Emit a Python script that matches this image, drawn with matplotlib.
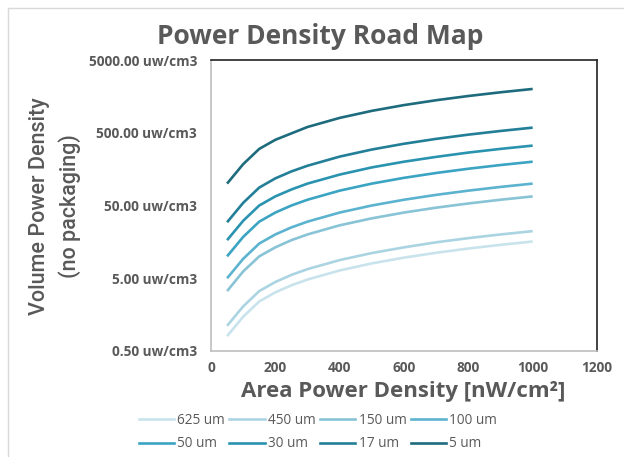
import matplotlib
matplotlib.use("Agg")
import matplotlib.pyplot as plt
from matplotlib.ticker import FixedLocator, NullLocator
from matplotlib.lines import Line2D

# ---- data ----
area_density = [50, 100, 150, 200, 250, 300, 400, 500, 600, 700, 800, 900, 1000]
series_names = ["625 um", "450 um", "150 um", "100 um", "50 um", "30 um", "17 um", "5 um"]
s625 = [0.8, 1.48, 2.4, 3.2, 4.0, 4.8, 6.4, 8.0, 9.6, 11.2, 12.8, 14.4, 16.0]
s450 = [1.11, 2.05, 3.33, 4.44, 5.56, 6.67, 8.89, 11.1, 13.3, 15.6, 17.8, 20.0, 22.2]
s150 = [3.33, 6.2, 10.0, 13.3, 16.7, 20.0, 26.7, 33.3, 40.0, 46.7, 53.3, 60.0, 66.7]
s100 = [5, 9.25, 15, 20, 25, 30, 40, 50, 60, 70, 80, 90, 100]
s50 = [10, 18.5, 30, 40, 50, 60, 80, 100, 120, 140, 160, 180, 200]
s30 = [16.7, 30.8, 50, 66.7, 83, 100, 133, 167, 200, 233, 267, 300, 333]
s17 = [29.4, 54.4, 88.2, 118, 147, 176, 235, 294, 353, 412, 471, 529, 588]
s5 = [100, 185, 300, 400, 490, 600, 800, 1000, 1200, 1400, 1600, 1800, 2000]
series_values = [s625, s450, s150, s100, s50, s30, s17, s5]
y_ticks = [0.5, 5, 50, 500, 5000]
y_tick_labels = ["0.50 uw/cm3", "5.00 uw/cm3", "50.00 uw/cm3", "500.00 uw/cm3", "5000.00 uw/cm3"]
x_ticks = [0, 200, 400, 600, 800, 1000, 1200]

colors = ["#c9e3ec", "#abd4e2", "#88c3d6", "#5cb3cf", "#3ba4c3", "#2a93b0", "#237f97", "#1e6b7e"]
grey = "#595959"

fig = plt.figure(figsize=(6.24, 4.57), dpi=100)
ax = fig.add_axes([211/624, 1-351/457, (597-211)/624, (351-60)/457])

for name, vals, c in zip(series_names, series_values, colors):
    ax.plot(area_density, vals, color=c, lw=1.9, solid_joinstyle="round",
            solid_capstyle="butt", label=name)

ax.set_yscale("log")
ax.set_ylim(0.5, 5000)
ax.set_xlim(0, 1200)
ax.yaxis.set_major_locator(FixedLocator(y_ticks))
ax.yaxis.set_minor_locator(NullLocator())
ax.set_yticklabels(y_tick_labels)
ax.set_xticks(x_ticks)
ax.tick_params(axis="y", length=0, pad=10, colors=grey)
ax.tick_params(axis="x", length=0, pad=7, colors=grey)
for lab in ax.get_xticklabels() + ax.get_yticklabels():
    lab.set_fontfamily("Open Sans")
    lab.set_fontweight("bold")
    lab.set_fontsize(9.8)
    lab.set_color(grey)

ax.spines["left"].set_color("#bfbfbf")
ax.spines["bottom"].set_color("#bfbfbf")
ax.spines["top"].set_color("#222222")
ax.spines["right"].set_color("#222222")
for sp in ax.spines.values():
    sp.set_linewidth(1.2)

fig.text(320/624, 1-36/457, "Power Density Road Map", ha="center", va="center",
         fontsize=19, fontweight="bold", color=grey, family="Open Sans")
fig.text(403/624, 1-392/457, "Area Power Density [nW/cm²]", ha="center", va="center",
         fontsize=16, fontweight="bold", color=grey, family="Open Sans")
fig.text(40/624, 1-206/457, "Volume Power Density", rotation=90, ha="center", va="center",
         fontsize=15.5, fontweight="medium", color=grey, family=["Roboto", "DejaVu Sans"])
fig.text(70/624, 1-206/457, "(no packaging)", rotation=90, ha="center", va="center",
         fontsize=15.5, fontweight="medium", color=grey, family=["Roboto", "DejaVu Sans"])

# legend (row-wise order: reorder for matplotlib's column-major fill)
order = [0, 4, 1, 5, 2, 6, 3, 7]
handles = [Line2D([0], [0], color=colors[i], lw=1.9) for i in order]
labels = [series_names[i] for i in order]
leg = fig.legend(handles, labels, loc="center", bbox_to_anchor=(318/624, 1-432/457),
                 ncol=4, frameon=False, prop={"family": "Open Sans", "size": 9.8},
                 handlelength=2.6, handletextpad=0.25, columnspacing=0.3, labelspacing=0.65,
                 borderpad=0)
for t in leg.get_texts():
    t.set_color(grey)

# chart border
fig.add_artist(Line2D([8/624, 1], [1-8/457, 1-8/457], color="#d9d9d9", lw=1, transform=fig.transFigure))
fig.add_artist(Line2D([8/624, 8/624], [0, 1-8/457], color="#d9d9d9", lw=1, transform=fig.transFigure))

fig.savefig("out.png", dpi=100)
